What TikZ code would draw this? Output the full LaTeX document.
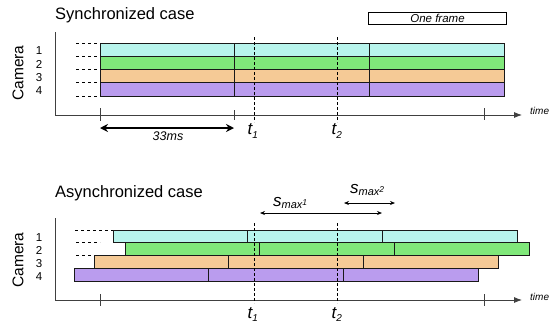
\documentclass[tikz,border=0pt]{standalone}
\usepackage{fontspec}
\setmainfont{Liberation Sans}
\usetikzlibrary{arrows.meta}

\definecolor{camone}{RGB}{184,244,236}
\definecolor{camtwo}{RGB}{128,232,122}
\definecolor{camthree}{RGB}{245,202,150}
\definecolor{camfour}{RGB}{186,156,238}

\newcommand{\fs}[1]{\fontsize{#1}{#1}\selectfont}
\newcommand{\tlbl}[1]{\textit{\fs{17}t\fs{10}\raisebox{-3.5pt}{#1}}}
\newcommand{\smaxlbl}[1]{\textit{\fs{17}s\fs{11}\raisebox{-2.5pt}{max\raisebox{3pt}{\fs{8.5}#1}}}}

\begin{document}
\begin{tikzpicture}[x=1pt,y=-1pt,
  frame/.style={draw=black!90,line width=1pt},
  lead/.style={dash pattern=on 3pt off 3pt,line width=0.7pt},
  tline/.style={dash pattern=on 3pt off 2pt,line width=0.7pt},
  axis/.style={draw=black!75,line width=0.8pt},
  lbl/.style={inner sep=0pt,font=\fs{11.5}}]
\useasboundingbox (0,0) rectangle (559,327);

% ---- synchronized case ----
\node[anchor=base west,inner sep=0pt,font=\fs{16.5}] (sync) at (55,19.5) {Synchronized case};
\node[rotate=90,inner sep=0pt,font=\fs{15.5}] (camsync) at (18,73) {Camera};
\node[draw,line width=0.8pt,minimum width=138pt,minimum height=12.7pt,inner sep=0pt,
  font=\fs{11.5}\itshape] (oneframe) at (437.5,18.3) {One frame};

\coordinate (sy) at (55,32);
\coordinate (so) at (55,115);
\coordinate (sx) at (522,115);
\draw[axis,-{Latex[length=8pt,width=6pt]}] (sy) -- (so) -- (sx);
\node[anchor=west,inner sep=0pt,font=\fs{10}\itshape] (stime) at (530,111) {time};
\draw[axis] (100,108) -- (100,121) (234,110) -- (234,120) (484,108) -- (484,120);

\foreach \c [count=\i] in {camone,camtwo,camthree,camfour}{
  \pgfmathsetmacro\yt{43+13.25*(\i-1)}
  \foreach \k in {0,1,2}
    \draw[frame,fill=\c] ({100+134.7*\k},\yt) rectangle ++(134.7,13.25);
  \node[lbl] (s\i) at (39,\yt+8) {\i};
}
\foreach \y in {43,56.25,69.5,82.75,96}
  \draw[lead] (76,\y) -- (100,\y);

% time instants
\coordinate (st1a) at (254,37);
\coordinate (st1b) at (254,122);
\coordinate (st2a) at (337,37);
\coordinate (st2b) at (337,122);
\draw[tline] (st1a) -- (st1b);
\draw[tline] (st2a) -- (st2b);
\node[anchor=base west,inner sep=0pt] (st1) at (247.5,134.5) {\tlbl{1}};
\node[anchor=base west,inner sep=0pt] (st2) at (331.5,134.5) {\tlbl{2}};

% one frame period
\coordinate (ma) at (100,128);
\coordinate (mb) at (234,128);
\draw[{Stealth[length=8pt,width=8pt]}-{Stealth[length=8pt,width=8pt]},line width=1.3pt] (ma) -- (mb);
\node[anchor=base,inner sep=0pt,font=\fs{12.5}\itshape] (ms) at (168,140) {33ms};

% ---- asynchronized case ----
\node[anchor=base west,inner sep=0pt,font=\fs{16.5}] (async) at (55,197) {Asynchronized case};
\node[rotate=90,inner sep=0pt,font=\fs{15.5}] (camasync) at (18,260) {Camera};

\coordinate (ay) at (55,218);
\coordinate (ao) at (55,300);
\coordinate (ax) at (522,300);
\draw[axis,-{Latex[length=8pt,width=6pt]}] (ay) -- (ao) -- (ax);
\node[anchor=west,inner sep=0pt,font=\fs{10}\itshape] (atime) at (530,297) {time};
\draw[axis] (100,294) -- (100,306) (484,294) -- (484,306);

\foreach \c/\xs [count=\i] in {camone/113,camtwo/125,camthree/94,camfour/74}{
  \pgfmathsetmacro\yt{230+12.75*(\i-1)}
  \foreach \k in {0,1,2}
    \draw[frame,fill=\c] ({\xs+134.7*\k},\yt) rectangle ++(134.7,12.75);
  \node[lbl] (a\i) at (39,\yt+8) {\i};
}
\draw[lead] (75,230) -- (113,230);
\draw[lead] (76,242.75) -- (100,242.75);
\draw[lead] (76,255.5) -- (94,255.5);

\coordinate (at1a) at (254,223);
\coordinate (at1b) at (254,303);
\coordinate (at2a) at (337,223);
\coordinate (at2b) at (337,303);
\draw[tline] (at1a) -- (at1b);
\draw[tline] (at2a) -- (at2b);
\node[anchor=base west,inner sep=0pt] (at1) at (247.5,318) {\tlbl{1}};
\node[anchor=base west,inner sep=0pt] (at2) at (331.5,318) {\tlbl{2}};

% maximal skew
\coordinate (sa) at (260,213);
\coordinate (sb) at (382,213);
\coordinate (sc) at (344,203);
\coordinate (sd) at (395,203);
\draw[{Stealth[length=5pt,width=4pt]}-{Stealth[length=5pt,width=4pt]},line width=0.7pt] (sa) -- (sb);
\draw[{Stealth[length=5pt,width=4pt]}-{Stealth[length=5pt,width=4pt]},line width=0.7pt] (sc) -- (sd);
\node[anchor=base west,inner sep=0pt] (smaxa) at (273,206) {\smaxlbl{1}};
\node[anchor=base west,inner sep=0pt] (smaxb) at (350,193) {\smaxlbl{2}};
\end{tikzpicture}
\end{document}
